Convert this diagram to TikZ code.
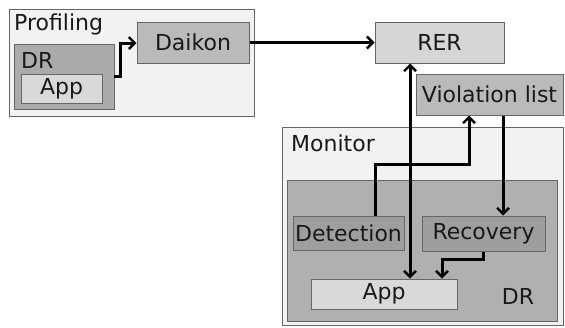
\documentclass[tikz,border=0pt]{standalone}
\usepackage{fontspec}
\setmainfont{DejaVu Sans}
\usetikzlibrary{arrows.meta}
\begin{document}
\begin{tikzpicture}[x=1pt,y=-1pt,
  box/.style={draw=black!60, line width=1pt},
  txt/.style={font=\fontsize{22}{25}\selectfont, text=black!90},
  lbl/.style={inner sep=0pt, txt},
  nbox/.style={box, inner sep=0pt, txt},
  tip/.tip={Straight Barb[length=6pt,width=12pt,line width=2.4pt]},
  conn/.style={line width=3pt, -tip},
  conn2/.style={line width=3pt, tip-tip}]
\useasboundingbox (0,0) rectangle (565,327);
% Profiling
\draw[box, fill=black!5] (9,9) rectangle (254,116);
\node[lbl, anchor=west] (prof) at (14,24) {Profiling};
\draw[box, fill=black!33] (14,44) rectangle (114,109);
\coordinate (drL) at (114,76);
\node[lbl, anchor=west] (drl) at (21,60) {DR};
\node[nbox, fill=black!15, minimum width=81pt, minimum height=29pt] (appL) at (61.5,88.5) {App};
\node[nbox, fill=black!27, minimum width=112pt, minimum height=41pt] (daikon) at (193,42.5) {Daikon};
% RER
\node[nbox, fill=black!16, minimum width=129pt, minimum height=41pt] (rer) at (439.5,42.5) {RER};
% Violation list
\node[nbox, fill=black!27, minimum width=147pt, minimum height=41pt] (vl) at (489.5,94.5) {Violation list};
% Monitor
\draw[box, fill=black!5] (282,127) rectangle (563,325);
\node[lbl, anchor=west] (mon) at (291,143) {Monitor};
\draw[box, fill=black!31] (287,180) rectangle (557,321);
\node[lbl] (drr) at (518,296) {DR};
\node[nbox, fill=black!38, minimum width=111pt, minimum height=34pt] (det) at (348.5,233) {Detection};
\node[nbox, fill=black!38, minimum width=123pt, minimum height=35pt] (rec) at (483.5,233.5) {Recovery};
\node[nbox, fill=black!15, minimum width=146pt, minimum height=30pt] (appR) at (384,294) {App};
% connectors
\draw[conn] (drL) -- (120,76) -- (120,43) -- (daikon.west |- 0,43);
\draw[conn] (daikon.east) -- (rer.west);
\draw[conn2] (rer.south -| 410,0) -- (appR.north -| 410,0);
\draw[conn] (det.north -| 375,0) -- (375,164) -- (469,164) -- (vl.south -| 469,0);
\draw[conn] (vl.south -| 503,0) -- (rec.north -| 503,0);
\draw[conn] (rec.south -| 483,0) -- (483,259) -- (442,259) -- (appR.north -| 442,0);
\end{tikzpicture}
\end{document}
